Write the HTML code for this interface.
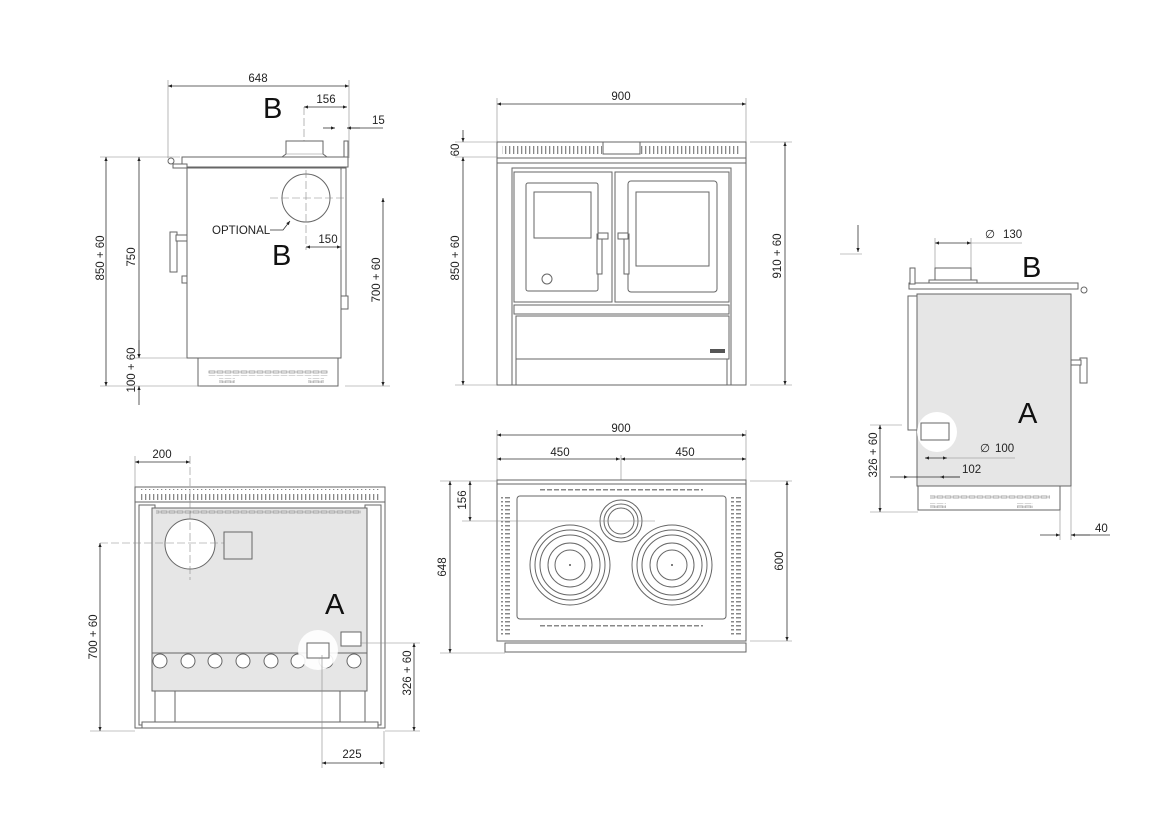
<!DOCTYPE html>
<html><head><meta charset="utf-8"><style>
html,body{margin:0;padding:0;background:#fff;}
svg{display:block;font-family:"Liberation Sans",sans-serif;}
.t{font-size:11.5px;fill:#222;}
.big{font-size:29px;fill:#111;}
.d{stroke:#333;stroke-width:0.8;fill:none;}
.e{stroke:#888;stroke-width:0.6;fill:none;}
.o{stroke:#666;stroke-width:1;fill:#fff;}
.g{stroke:#666;stroke-width:1;fill:#e6e6e6;}
</style></head><body>
<svg width="1175" height="837" viewBox="0 0 1175 837" xmlns="http://www.w3.org/2000/svg">
<defs>
<marker id="a" viewBox="0 0 10 10" refX="10" refY="5" markerWidth="7" markerHeight="5" orient="auto-start-reverse"><path d="M0,1 L10,5 L0,9 z" fill="#222"/></marker>
<pattern id="sl" width="4" height="12" patternUnits="userSpaceOnUse"><rect x="1" y="2" width="1.3" height="8" fill="#888"/></pattern>
<pattern id="sv" width="8" height="5" patternUnits="userSpaceOnUse"><rect x="1" y="1" width="6" height="2" fill="none" stroke="#888" stroke-width="0.7"/></pattern>
<pattern id="sh" width="7" height="4" patternUnits="userSpaceOnUse"><rect x="1" y="1" width="5" height="1.5" fill="#888"/></pattern>
</defs>

<!-- ============ TOP-LEFT SIDE VIEW ============ -->
<line class="d" x1="168" y1="86" x2="349" y2="86" marker-start="url(#a)" marker-end="url(#a)"/>
<line class="e" x1="168" y1="80" x2="168" y2="158"/><line class="e" x1="349" y1="80" x2="349" y2="158"/>
<text class="t" x="258" y="82" text-anchor="middle">648</text>
<text class="big" x="263" y="118">B</text>
<line class="d" x1="304" y1="107" x2="347" y2="107" marker-start="url(#a)" marker-end="url(#a)"/>
<text class="t" x="326" y="103" text-anchor="middle">156</text>
<line class="e" x1="304" y1="107" x2="304" y2="250" stroke-dasharray="8,3"/>
<line class="d" x1="323" y1="128" x2="335" y2="128" marker-end="url(#a)"/>
<line class="d" x1="360" y1="128" x2="347" y2="128" marker-end="url(#a)"/>
<line class="d" x1="347" y1="128" x2="383" y2="128"/>
<text class="t" x="372" y="124">15</text>
<!-- top plate -->
<rect class="o" x="182" y="157" width="166" height="10"/>
<circle class="o" cx="171" cy="161" r="3"/>
<rect class="o" x="173" y="164" width="14" height="4"/>
<path class="o" d="M282,157 L286,154 L286,141 L323,141 L323,154 L327,157 z"/>
<line class="e" x1="286" y1="154" x2="323" y2="154"/>
<!-- body -->
<rect class="o" x="187" y="168" width="154" height="190"/>
<rect class="o" x="341" y="168" width="5" height="140"/>
<rect class="o" x="344" y="141" width="4" height="16"/>
<rect class="o" x="341" y="296" width="7" height="13"/>
<circle class="o" cx="306" cy="198" r="24"/>
<line class="e" x1="270" y1="198" x2="345" y2="198" stroke-dasharray="8,3"/>
<line class="e" x1="306" y1="170" x2="306" y2="250" stroke-dasharray="8,3"/>
<rect class="o" x="170" y="232" width="7" height="40"/>
<rect class="o" x="176" y="235" width="11" height="6"/>
<rect class="o" x="182" y="276" width="5" height="7"/>
<!-- base -->
<rect class="o" x="198" y="358" width="140" height="28"/>
<rect x="208" y="370" width="120" height="6" fill="url(#sv)"/>
<rect x="219" y="378" width="16" height="5" fill="url(#sv)"/>
<rect x="308" y="378" width="16" height="5" fill="url(#sv)"/>
<text class="t" x="212" y="234" font-size="10">OPTIONAL</text>
<path class="d" d="M270,230 L283,230 L290,221" marker-end="url(#a)"/>
<text class="big" x="272" y="265">B</text>
<line class="d" x1="306" y1="247" x2="341" y2="247" marker-start="url(#a)" marker-end="url(#a)"/>
<text class="t" x="328" y="243" text-anchor="middle">150</text>
<line class="e" x1="341" y1="170" x2="341" y2="250"/>
<!-- left dims -->
<line class="e" x1="100" y1="157" x2="180" y2="157"/>
<line class="e" x1="100" y1="386" x2="200" y2="386"/>
<line class="e" x1="135" y1="358" x2="187" y2="358"/>
<line class="d" x1="106" y1="157" x2="106" y2="386" marker-start="url(#a)" marker-end="url(#a)"/>
<line class="d" x1="139" y1="157" x2="139" y2="358" marker-start="url(#a)" marker-end="url(#a)"/>
<line class="d" x1="139" y1="340" x2="139" y2="358" marker-end="url(#a)"/>
<line class="d" x1="139" y1="405" x2="139" y2="386" marker-end="url(#a)"/>
<text class="t" transform="translate(104,258) rotate(-90)" text-anchor="middle">850 + 60</text>
<text class="t" transform="translate(135,257) rotate(-90)" text-anchor="middle">750</text>
<text class="t" transform="translate(135,370) rotate(-90)" text-anchor="middle">100 + 60</text>
<line class="d" x1="383" y1="198" x2="383" y2="386" marker-start="url(#a)" marker-end="url(#a)"/>
<line class="e" x1="345" y1="386" x2="390" y2="386"/>
<text class="t" transform="translate(380,280) rotate(-90)" text-anchor="middle">700 + 60</text>

<!-- ============ TOP-MIDDLE FRONT VIEW ============ -->
<line class="d" x1="497" y1="104" x2="746" y2="104" marker-start="url(#a)" marker-end="url(#a)"/>
<line class="e" x1="497" y1="98" x2="497" y2="142"/><line class="e" x1="746" y1="98" x2="746" y2="142"/>
<text class="t" x="621" y="100" text-anchor="middle">900</text>
<rect class="o" x="497" y="142" width="249" height="16"/>
<rect x="502" y="144" width="100" height="12" fill="url(#sl)"/>
<rect x="641" y="144" width="100" height="12" fill="url(#sl)"/>
<rect class="o" x="603" y="142" width="37" height="12"/>
<rect class="o" x="497" y="158" width="249" height="5"/>
<rect class="o" x="497" y="163" width="249" height="222"/>
<rect class="o" x="512" y="168" width="219" height="217"/>
<rect class="o" x="514" y="172" width="98" height="130"/>
<rect class="o" x="526" y="183" width="72" height="108" rx="2"/>
<rect class="o" x="534" y="192" width="57" height="46"/>
<circle class="o" cx="547" cy="279" r="5"/>
<rect class="o" x="597" y="234" width="5" height="40"/>
<rect class="o" x="598" y="233" width="10" height="6"/>
<rect class="o" x="615" y="172" width="114" height="130"/>
<rect class="o" x="628" y="181" width="89" height="111" rx="3"/>
<rect class="o" x="636" y="192" width="73" height="74"/>
<rect class="o" x="624" y="234" width="5" height="40"/>
<rect class="o" x="618" y="233" width="10" height="6"/>
<rect class="o" x="514" y="305" width="215" height="9"/>
<rect class="o" x="516" y="316" width="213" height="43"/>
<rect x="710" y="349" width="15" height="4" fill="#555"/>
<rect class="o" x="516" y="359" width="211" height="26"/>
<line class="e" x1="455" y1="142" x2="497" y2="142"/>
<line class="e" x1="455" y1="157" x2="497" y2="157"/>
<line class="e" x1="455" y1="385" x2="497" y2="385"/>
<line class="d" x1="463" y1="130" x2="463" y2="142" marker-end="url(#a)"/>
<line class="d" x1="463" y1="157" x2="463" y2="385" marker-start="url(#a)" marker-end="url(#a)"/>
<text class="t" transform="translate(459,150) rotate(-90)" text-anchor="middle">60</text>
<text class="t" transform="translate(459,258) rotate(-90)" text-anchor="middle">850 + 60</text>
<line class="e" x1="750" y1="142" x2="792" y2="142"/>
<line class="e" x1="750" y1="385" x2="792" y2="385"/>
<line class="d" x1="785" y1="142" x2="785" y2="385" marker-start="url(#a)" marker-end="url(#a)"/>
<text class="t" transform="translate(781,256) rotate(-90)" text-anchor="middle">910 + 60</text>

<!-- ============ RIGHT SIDE VIEW ============ -->
<line class="d" x1="858" y1="225" x2="858" y2="252" marker-end="url(#a)"/>
<line class="e" x1="840" y1="254" x2="862" y2="254"/>
<line class="d" x1="935" y1="243" x2="971" y2="243" marker-start="url(#a)" marker-end="url(#a)"/>
<line class="e" x1="971" y1="243" x2="1022" y2="243"/>
<text class="t" x="985" y="238" fill="#888">∅</text>
<text class="t" x="1003" y="238">130</text>
<text class="big" x="1022" y="277">B</text>
<line class="e" x1="935" y1="238" x2="935" y2="268"/><line class="e" x1="971" y1="238" x2="971" y2="268"/>
<rect class="o" x="935" y="268" width="36" height="15"/>
<rect class="o" x="929" y="280" width="48" height="3"/>
<rect class="o" x="909" y="283" width="169" height="6"/>
<rect class="o" x="910" y="268" width="5" height="16"/>
<circle class="o" cx="1084" cy="290" r="3"/>
<rect class="g" x="917" y="294" width="154" height="192"/>
<rect class="o" x="908" y="296" width="9" height="134"/>
<rect class="o" x="1080" y="358" width="7" height="25"/>
<rect class="o" x="1071" y="360" width="10" height="5"/>
<circle cx="937" cy="432" r="20" fill="#fff"/>
<rect class="o" x="921" y="423" width="28" height="17"/>
<text class="big" x="1018" y="423">A</text>
<rect class="o" x="918" y="486" width="142" height="24"/>
<rect x="930" y="495" width="120" height="5" fill="url(#sv)"/>
<rect x="930" y="503" width="16" height="5" fill="url(#sv)"/>
<rect x="1017" y="503" width="16" height="5" fill="url(#sv)"/>
<line class="e" x1="870" y1="425" x2="902" y2="425"/>
<line class="e" x1="870" y1="512" x2="918" y2="512"/>
<line class="d" x1="880" y1="425" x2="880" y2="512" marker-start="url(#a)" marker-end="url(#a)"/>
<text class="t" transform="translate(877,455) rotate(-90)" text-anchor="middle">326 + 60</text>
<line class="d" x1="925" y1="458" x2="947" y2="458" marker-start="url(#a)" marker-end="url(#a)"/>
<line class="e" x1="947" y1="458" x2="1015" y2="458"/>
<text class="t" x="980" y="452" fill="#888">∅</text>
<text class="t" x="995" y="452">100</text>
<line class="d" x1="890" y1="477" x2="908" y2="477" marker-end="url(#a)"/>
<line class="d" x1="960" y1="477" x2="940" y2="477" marker-end="url(#a)"/>
<line class="d" x1="908" y1="477" x2="960" y2="477"/>
<text class="t" x="962" y="473">102</text>
<line class="e" x1="1060" y1="510" x2="1060" y2="540"/><line class="e" x1="1071" y1="486" x2="1071" y2="540"/>
<line class="d" x1="1040" y1="535" x2="1060" y2="535" marker-end="url(#a)"/>
<line class="d" x1="1090" y1="535" x2="1071" y2="535" marker-end="url(#a)"/>
<line class="d" x1="1071" y1="535" x2="1110" y2="535"/>
<text class="t" x="1095" y="532">40</text>

<!-- ============ BOTTOM-LEFT REAR VIEW ============ -->
<line class="d" x1="135" y1="462" x2="190" y2="462" marker-start="url(#a)" marker-end="url(#a)"/>
<line class="e" x1="135" y1="456" x2="135" y2="487"/>
<text class="t" x="162" y="458" text-anchor="middle">200</text>
<rect class="o" x="135" y="487" width="250" height="15"/>
<rect x="139" y="489" width="242" height="11" fill="url(#sl)"/>
<rect class="o" x="135" y="502" width="250" height="226"/>
<rect class="o" x="139" y="505" width="16" height="220"/>
<rect class="o" x="365" y="505" width="16" height="220"/>
<rect class="g" x="152" y="508" width="215" height="145"/>
<rect x="156" y="509" width="205" height="5" fill="url(#sv)"/>
<rect class="g" x="152" y="653" width="215" height="38"/>
<g class="o">
<circle cx="160" cy="661" r="7"/><circle cx="188" cy="661" r="7"/><circle cx="215" cy="661" r="7"/><circle cx="243" cy="661" r="7"/>
<circle cx="271" cy="661" r="7"/><circle cx="298" cy="661" r="7"/><circle cx="326" cy="661" r="7"/><circle cx="354" cy="661" r="7"/>
</g>
<circle class="o" cx="190" cy="544" r="25" fill="#e6e6e6"/>
<line class="e" x1="100" y1="543" x2="230" y2="543" stroke-dasharray="8,3"/>
<line class="e" x1="190" y1="456" x2="190" y2="580" stroke-dasharray="8,3"/>
<rect class="g" x="224" y="532" width="28" height="27"/>
<circle cx="318" cy="650" r="20" fill="#fff" opacity="0.9"/>
<rect class="o" x="307" y="643" width="22" height="15"/>
<rect class="o" x="341" y="632" width="20" height="14"/>
<rect class="o" x="175" y="691" width="165" height="32"/>
<rect class="o" x="142" y="722" width="236" height="6"/>
<text class="big" x="325" y="614">A</text>
<line class="e" x1="90" y1="731" x2="135" y2="731"/>
<line class="d" x1="100" y1="543" x2="100" y2="731" marker-start="url(#a)" marker-end="url(#a)"/>
<text class="t" transform="translate(97,637) rotate(-90)" text-anchor="middle">700 + 60</text>
<line class="e" x1="360" y1="643" x2="420" y2="643"/>
<line class="e" x1="385" y1="731" x2="420" y2="731"/>
<line class="d" x1="414" y1="643" x2="414" y2="731" marker-start="url(#a)" marker-end="url(#a)"/>
<text class="t" transform="translate(411,673) rotate(-90)" text-anchor="middle">326 + 60</text>
<line class="e" x1="322" y1="655" x2="322" y2="768"/>
<line class="e" x1="384" y1="731" x2="384" y2="768"/>
<line class="d" x1="322" y1="763" x2="384" y2="763" marker-start="url(#a)" marker-end="url(#a)"/>
<text class="t" x="352" y="758" text-anchor="middle">225</text>

<!-- ============ BOTTOM-MIDDLE TOP VIEW ============ -->
<line class="e" x1="497" y1="430" x2="497" y2="481"/><line class="e" x1="746" y1="430" x2="746" y2="481"/>
<line class="d" x1="497" y1="435" x2="746" y2="435" marker-start="url(#a)" marker-end="url(#a)"/>
<text class="t" x="621" y="432" text-anchor="middle">900</text>
<line class="d" x1="497" y1="459" x2="620" y2="459" marker-start="url(#a)" marker-end="url(#a)"/>
<line class="d" x1="621" y1="459" x2="746" y2="459" marker-start="url(#a)" marker-end="url(#a)"/>
<text class="t" x="560" y="456" text-anchor="middle">450</text>
<text class="t" x="685" y="456" text-anchor="middle">450</text>
<line class="e" x1="621" y1="455" x2="621" y2="560"/>
<rect class="o" x="497" y="480" width="249" height="4"/>
<rect class="o" x="497" y="484" width="249" height="157"/>
<rect x="501" y="496" width="11" height="140" fill="url(#sh)"/>
<rect x="731" y="496" width="11" height="140" fill="url(#sh)"/>
<rect x="540" y="488" width="163" height="4" fill="url(#sh)"/>
<rect x="540" y="623" width="163" height="4" fill="url(#sh)"/>
<rect class="o" x="517" y="496" width="209" height="123" rx="3"/>
<g class="o" fill="none">
<circle cx="570" cy="565" r="40"/><circle cx="570" cy="565" r="35"/><circle cx="570" cy="565" r="30"/><circle cx="570" cy="565" r="22"/><circle cx="570" cy="565" r="15"/>
<circle cx="672" cy="565" r="40"/><circle cx="672" cy="565" r="35"/><circle cx="672" cy="565" r="30"/><circle cx="672" cy="565" r="22"/><circle cx="672" cy="565" r="15"/>
<circle cx="621" cy="521" r="21"/><circle cx="621" cy="521" r="17"/><circle cx="621" cy="521" r="13"/>
</g>
<circle cx="570" cy="565" r="1" fill="#555"/><circle cx="672" cy="565" r="1" fill="#555"/>
<line class="e" x1="462" y1="521" x2="655" y2="521"/>
<rect class="o" x="505" y="643" width="241" height="9"/>
<line class="e" x1="440" y1="481" x2="497" y2="481"/>
<line class="e" x1="440" y1="653" x2="505" y2="653"/>
<line class="d" x1="470" y1="481" x2="470" y2="521" marker-start="url(#a)" marker-end="url(#a)"/>
<text class="t" transform="translate(466,500) rotate(-90)" text-anchor="middle">156</text>
<line class="d" x1="450" y1="481" x2="450" y2="653" marker-start="url(#a)" marker-end="url(#a)"/>
<text class="t" transform="translate(446,567) rotate(-90)" text-anchor="middle">648</text>
<line class="e" x1="750" y1="481" x2="792" y2="481"/>
<line class="e" x1="750" y1="641" x2="792" y2="641"/>
<line class="d" x1="787" y1="481" x2="787" y2="641" marker-start="url(#a)" marker-end="url(#a)"/>
<text class="t" transform="translate(783,561) rotate(-90)" text-anchor="middle">600</text>
</svg>
</body></html>
